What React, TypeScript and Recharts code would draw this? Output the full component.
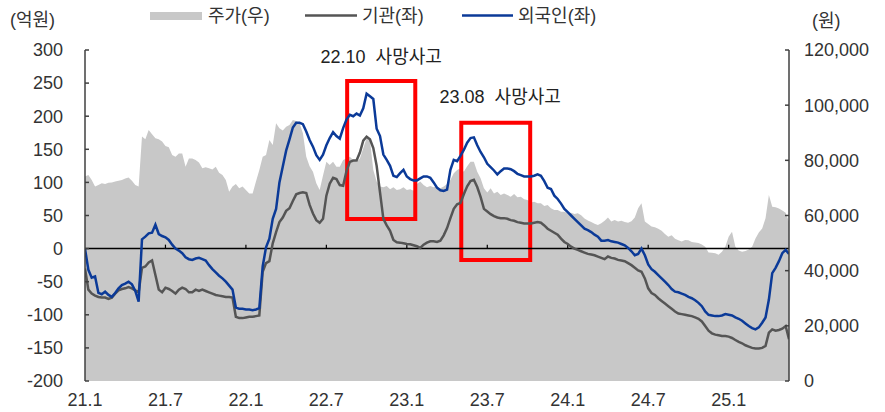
import React from 'react';
import {
  ComposedChart, Area, Line, XAxis, YAxis, ReferenceLine, ReferenceArea
} from 'recharts';

// weekly samples from 21.1 onward (4 per month)
const price = [
  74100, 74700, 72900, 70500, 71100, 71700, 71400, 71900, 72000, 72300,
  72600, 72900, 73400, 73800, 72600, 71100, 70500, 88600, 87600, 91000,
  89500, 88000, 87600, 86800, 85200, 84700, 81900, 81300, 82500, 82500,
  77700, 80700, 80700, 80100, 79200, 77100, 77500, 77100, 76700, 77700,
  75500, 74700, 72900, 68600, 70500, 71400, 69900, 70500, 69200, 68000,
  68000, 72300, 76500, 81300, 81900, 87400, 85600, 93400, 91600, 90800,
  92200, 92800, 94600, 94300, 93400, 89800, 81300, 77900, 75900, 71700,
  69200, 74500, 79500, 78300, 79500, 77700, 77700, 80100, 80700, 81300,
  80100, 79500, 80700, 84400, 88000, 87400, 76500, 72300, 70500, 70200,
  70700, 69500, 70200, 69200, 69500, 70200, 69200, 69500, 69000, 71400,
  72300, 71100, 70200, 70700, 70200, 70500, 69900, 70500, 71400, 72900,
  75300, 76500, 77100, 75900, 77900, 79500, 79500, 75900, 73500, 69900,
  68300, 69900, 68000, 68600, 67400, 68000, 67400, 66800, 67800, 66600,
  66800, 65900, 65600, 64700, 65000, 64400, 64400, 63400, 63800, 62600,
  62000, 62000, 61400, 61400, 60800, 61000, 60500, 60800, 60100, 58900,
  58200, 57600, 57000, 56600, 57200, 58100, 59300, 57800, 58400, 57800,
  58100, 57600, 57400, 57900, 59300, 62600, 64400, 57800, 56900, 56000,
  55700, 55200, 54500, 53300, 52300, 52800, 51600, 51000, 50600, 51100,
  51000, 50400, 50200, 50000, 49500, 48700, 46600, 46500, 46300, 45800,
  46900, 48700, 52300, 54100, 48700, 47300, 46900, 47100, 47700, 48700,
  51700, 53800, 55300, 59000, 67400, 63200, 63000, 62500, 61800, 61000,
  57800,
];

const inst = [
  -30, -62, -68, -71, -73, -74, -74, -76, -74, -68,
  -63, -61, -60, -58, -60, -63, -66, -29, -27, -21,
  -18, -40, -62, -66, -59, -61, -64, -68, -62, -59,
  -61, -66, -66, -62, -64, -62, -64, -66, -68, -70,
  -71, -72, -73, -73, -74, -103, -105, -105, -104, -103,
  -103, -102, -101, -35, -22, -19, 8, 25, 40, 47,
  57, 61, 72, 82, 84, 85, 84, 66, 53, 43,
  39, 45, 80, 98, 107, 105, 96, 95, 117, 131,
  133, 133, 145, 163, 169, 165, 152, 125, 85, 45,
  35, 27, 13, 9.5, 9, 8, 7, 6.5, 5, 3.5,
  1, 6, 9, 11, 11, 10, 12, 20, 31, 46,
  60, 67, 69, 82, 94, 102, 104, 93, 78, 60,
  56, 52, 49, 47, 46, 46, 45, 43, 42, 40,
  39, 38, 38, 38, 39, 40, 39, 35, 30, 27,
  24, 21, 15, 10, 7, 3, 0, -2, -4, -6,
  -8, -9, -10, -12, -14, -16, -12, -14, -15, -17,
  -18, -19, -22, -25, -29, -33, -35, -45, -60, -67,
  -70, -75, -79, -83, -87, -91, -95, -98, -99, -100,
  -101, -102, -104, -106, -110, -117, -124, -128, -130, -131,
  -132, -132, -133, -135, -138, -141, -143, -146, -148, -150,
  -151, -151, -150, -147, -127, -122, -124, -123, -121, -117,
  -137,
];

const foreign = [
  0, -32, -44, -42, -67, -69, -65, -70, -73, -67,
  -60, -55, -53, -50, -54, -64, -80, 14, 18, 23,
  24, 36, 22, 19, 17, 13, 6, 0, -3, -7,
  -13, -16, -17, -15, -14, -16, -18, -25, -31, -36,
  -41, -45, -50, -56, -62, -89, -91, -91, -92, -92,
  -93, -92, -90, -27, 2, 15, 45, 60, 100, 124,
  148, 165, 183, 190, 190, 188, 177, 164, 154, 141,
  134, 142, 156, 167, 176, 170, 166, 182, 195, 202,
  200, 204, 201, 212, 234, 230, 226, 181, 170, 142,
  134, 125, 110, 108, 114, 119, 109, 105, 103, 103,
  106, 109, 109, 107, 100, 92, 88, 87, 89, 119,
  134, 132, 140, 149, 160, 167, 168, 156, 146, 138,
  128, 123, 118, 112, 117, 121, 121, 120, 117, 113,
  111, 109, 109, 109, 110, 112, 110, 102, 92, 90,
  80, 75, 68, 60, 55, 50, 45, 40, 35, 30,
  28, 25, 21, 18, 12, 12, 13, 11, 10, 9,
  7, 5, 1, -4, -10, -8, 0, -10, -24, -31,
  -35, -40, -45, -50, -55, -61, -65, -66, -68, -70,
  -73, -75, -78, -82, -87, -95, -100, -101, -102, -102,
  -101, -99, -100, -101, -104, -106, -109, -113, -117, -120,
  -122, -119, -112, -104, -77, -37, -29, -19, -7, -2,
  -8,
];

// x ticks in months since 21.1
const tickMonths = [0, 6, 12, 18, 24, 30, 36, 42, 48];
const tickLabels = ['21.1', '21.7', '22.1', '22.7', '23.1', '23.7', '24.1', '24.7', '25.1'];

const leftTicks = [-200, -150, -100, -50, 0, 50, 100, 150, 200, 250, 300];
const rightTicks = [0, 20000, 40000, 60000, 80000, 100000, 120000];

// highlighted periods: [month from, month to, low, high]
const events = [
  { label: '22.10  사망사고', x1: 19.55, x2: 24.63, y1: 44.7, y2: 253, dx: 0, dy: -24 },
  { label: '23.08  사망사고', x1: 28.06, x2: 33.2, y1: -17.2, y2: 190, dx: 4.5, dy: -25.5 },
];

const data = price.map((p, i) => ({
  t: i / 4,
  price: p,
  inst: inst[i],
  foreign: foreign[i],
}));

const FONT = "'Liberation Sans', 'Noto Sans CJK KR', sans-serif";
const TEXT = '#333333';
const AXIS = '#404040';

const eventLabel = (text: string, dx: number, dy: number) => (props: any) => {
  const vb = props.viewBox;
  return (
    <text
      x={vb.x + vb.width / 2 + dx}
      y={vb.y + dy}
      textAnchor="middle"
      dominantBaseline="central"
      fontSize={18}
      fontFamily={FONT}
      fill="#222"
      style={{ whiteSpace: 'pre' }}
    >
      {text}
    </text>
  );
};

export default function App() {
  return (
    <div style={{ position: 'absolute', left: 0, top: 0, width: 885, height: 412, background: '#fff' }}>
      <ComposedChart
        width={885}
        height={412}
        data={data}
        margin={{ top: 50, right: 0, bottom: 0, left: 0 }}
      >
        <XAxis
          dataKey="t"
          type="number"
          domain={[0, 52.5]}
          ticks={tickMonths}
          tickFormatter={(v: number) => tickLabels[tickMonths.indexOf(v)] ?? ''}
          axisLine={false}
          tickLine={false}
          tickSize={0}
          tickMargin={12}
          height={31}
          tick={{ fontSize: 18, fill: TEXT, fontFamily: FONT }}
          allowDataOverflow
        />
        <YAxis
          yAxisId="left"
          orientation="left"
          width={85}
          domain={[-200, 300]}
          ticks={leftTicks}
          interval={0}
          stroke={AXIS}
          axisLine={{ stroke: AXIS, strokeWidth: 1.5 }}
          tickLine={{ stroke: AXIS, strokeWidth: 1.5 }}
          tickSize={-4}
          tickMargin={26}
          tick={{ fontSize: 18, fill: TEXT, fontFamily: FONT }}
        />
        <YAxis
          yAxisId="right"
          orientation="right"
          width={96}
          domain={[0, 120000]}
          ticks={rightTicks}
          interval={0}
          stroke={AXIS}
          axisLine={{ stroke: AXIS, strokeWidth: 1.5 }}
          tickLine={{ stroke: AXIS, strokeWidth: 1.5 }}
          tickSize={-4}
          tickMargin={19}
          tickFormatter={(v: number) => v.toLocaleString('en-US')}
          tick={{ fontSize: 18, fill: TEXT, fontFamily: FONT }}
        />

        <Area
          yAxisId="right"
          dataKey="price"
          type="linear"
          stroke="none"
          fill="#c8c8c8"
          fillOpacity={1}
          isAnimationActive={false}
        />

        <ReferenceLine yAxisId="left" y={0} stroke="#000" strokeWidth={1.5} />
        {tickMonths.slice(1).map((m) => (
          <ReferenceLine
            key={m}
            yAxisId="left"
            segment={[{ x: m, y: 0 }, { x: m, y: 6 }]}
            stroke="#000"
            strokeWidth={1.2}
          />
        ))}

        <Line
          yAxisId="left"
          dataKey="inst"
          type="linear"
          stroke="#555555"
          strokeWidth={2.5}
          dot={false}
          isAnimationActive={false}
        />
        <Line
          yAxisId="left"
          dataKey="foreign"
          type="linear"
          stroke="#0b3a98"
          strokeWidth={2.5}
          dot={false}
          isAnimationActive={false}
        />

        {events.map((e) => (
          <ReferenceArea
            key={e.label}
            yAxisId="left"
            x1={e.x1}
            x2={e.x2}
            y1={e.y1}
            y2={e.y2}
            fill="none"
            fillOpacity={0}
            stroke="#ff0000"
            strokeWidth={4}
            label={eventLabel(e.label, e.dx, e.dy)}
          />
        ))}
      </ComposedChart>

      {/* units + legend */}
      <svg
        width={885}
        height={412}
        style={{ position: 'absolute', left: 0, top: 0, pointerEvents: 'none' }}
        fontFamily={FONT}
        fontSize={18}
      >
        <text x={10} y={20} dominantBaseline="central" fill={TEXT}>(억원)</text>
        <text x={812} y={21} dominantBaseline="central" fill={TEXT}>(원)</text>

        <rect x={150} y={12} width={52} height={8} fill="#c8c8c8" />
        <text x={208} y={16} dominantBaseline="central" fill={TEXT}>주가(우)</text>

        <line x1={305} x2={357} y1={15.5} y2={15.5} stroke="#555555" strokeWidth={2.5} />
        <text x={362} y={16} dominantBaseline="central" fill={TEXT}>기관(좌)</text>

        <line x1={462} x2={513} y1={15.5} y2={15.5} stroke="#0b3a98" strokeWidth={2.5} />
        <text x={518} y={16} dominantBaseline="central" fill={TEXT}>외국인(좌)</text>
      </svg>
    </div>
  );
}
